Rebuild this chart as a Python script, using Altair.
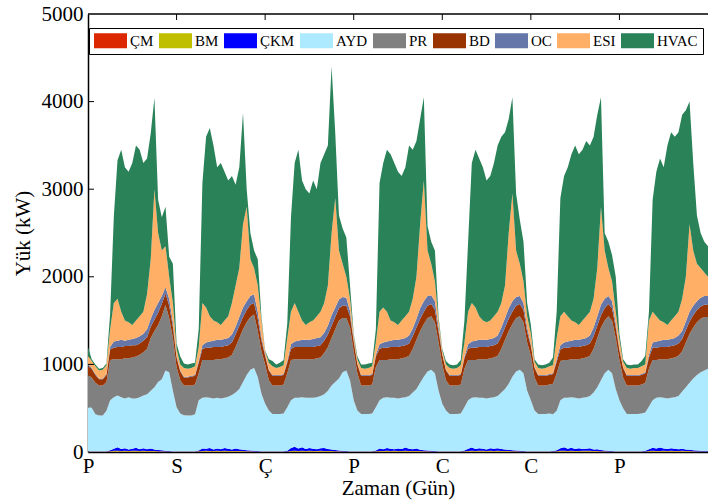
import numpy as np
import pandas as pd
import altair as alt

SERIES = ["ÇM", "BM", "ÇKM", "AYD", "PR", "BD", "OC", "ESI", "HVAC"]
COLORS = ["#dc2800", "#bfbf00", "#0000ff", "#aeeaff", "#808080",
          "#993300", "#6576a8", "#ffb066", "#2a8258"]
DAY_TICKS = [0, 24, 48, 72, 96, 120, 144]
DAY_LABELS = ["P", "S", "Ç", "P", "C", "C", "P"]
Y_TICKS = [0, 1000, 2000, 3000, 4000, 5000]
HOURS = list(range(169))

# small bottom series (kW)
CM = [4,4,4,4,4,4,5,6,5,6,5,5,6,5,5,6,5,5,6,5,5,4,4,4,
      4,4,4,4,4,4,5,5,6,5,6,5,5,6,5,5,6,5,5,5,5,4,4,4,
      4,4,4,4,4,4,4,6,5,5,6,5,6,5,5,6,5,6,5,5,5,4,4,4,
      4,4,4,4,4,4,5,6,5,6,5,6,5,5,6,5,5,6,5,5,5,4,4,4,
      4,4,4,4,4,4,5,5,6,5,5,6,5,6,5,5,6,5,5,5,5,4,4,4,
      4,4,4,4,4,4,4,5,6,5,6,5,5,6,5,6,5,5,6,5,5,4,4,4,
      4,4,4,4,4,4,4,4,5,6,5,6,5,5,6,5,5,6,5,5,5,4,4,4,
      4]
BM = [2,2,2,2,2,2,4,7,9,6,8,5,7,9,6,8,5,6,5,4,3,3,2,2,
      2,2,2,2,2,2,3,6,8,7,5,8,6,9,7,5,6,7,5,4,3,3,2,2,
      2,2,2,2,2,2,3,5,9,7,8,6,9,7,6,8,7,5,6,4,3,3,2,2,
      2,2,2,2,2,2,3,6,7,9,6,8,5,7,9,6,7,6,5,4,3,3,2,2,
      2,2,2,2,2,2,3,7,8,6,9,7,6,8,7,9,6,5,5,4,3,3,2,2,
      2,2,2,2,2,2,2,4,7,8,6,9,7,6,8,7,9,6,5,4,3,3,2,2,
      2,2,2,2,2,2,2,3,5,8,7,6,9,7,8,6,7,8,6,5,4,3,3,2,
      2]
CKM = [3,2,2,2,3,3,12,25,40,22,30,18,25,35,20,28,22,30,18,15,12,8,5,3,
       3,2,2,2,2,3,10,30,22,35,18,26,20,32,24,18,28,20,15,12,10,6,4,3,
       3,2,2,2,2,3,8,35,45,28,40,22,30,25,20,28,35,22,18,14,10,6,4,3,
       3,2,2,2,2,3,10,28,20,32,25,18,30,22,35,26,20,28,16,12,9,6,4,3,
       3,2,2,2,2,3,10,26,38,22,30,25,18,28,24,30,22,18,15,12,9,6,4,3,
       3,2,2,2,2,3,4,12,30,40,26,35,22,30,20,25,28,18,20,14,10,7,4,3,
       3,2,2,2,2,3,3,6,20,35,28,40,25,22,30,26,20,24,18,15,12,10,8,6,
       5]

# upper edges of the stacked layers (kW)
AYD_TOP = [510,505,430,417,417,470,590,626,645,626,610,626,610,610,626,645,660,700,740,800,830,930,910,700,
           512,440,420,417,417,430,590,620,626,620,610,620,610,620,630,650,680,720,800,880,940,960,855,665,
           550,474,435,435,435,440,512,590,620,620,626,620,620,620,626,640,660,700,760,800,840,910,930,817,
           590,474,435,435,435,440,512,590,620,626,620,620,610,620,626,640,680,720,790,860,920,940,900,700,
           550,474,435,435,435,440,512,590,620,626,620,620,610,620,626,640,680,720,780,860,920,940,900,700,
           590,474,435,435,435,440,430,470,590,620,620,626,620,610,620,626,640,680,740,820,900,940,900,720,
           590,500,435,435,435,435,440,450,520,590,620,626,620,610,620,626,640,690,740,790,840,880,910,930,
           950]
PR_TOP = [880,850,790,760,760,800,1050,1060,1060,1060,1070,1070,1080,1090,1110,1140,1180,1300,1380,1450,1550,1680,1530,1300,
          970,820,760,760,760,770,900,1050,1050,1050,1050,1060,1060,1070,1080,1110,1200,1300,1400,1480,1540,1570,1380,1150,
          1000,820,760,760,760,770,900,1050,1060,1060,1060,1060,1060,1060,1070,1080,1130,1200,1300,1400,1500,1530,1530,1420,
          1150,900,760,760,760,770,970,1050,1050,1050,1060,1060,1060,1070,1080,1100,1180,1280,1380,1460,1530,1550,1480,1250,
          1000,820,760,760,760,770,950,1050,1050,1050,1060,1060,1060,1070,1080,1100,1180,1280,1380,1460,1530,1550,1480,1250,
          1100,850,760,760,760,770,780,900,1040,1050,1050,1060,1060,1060,1070,1080,1100,1180,1300,1420,1500,1550,1500,1300,
          1050,850,760,760,760,760,770,790,950,1050,1050,1060,1060,1060,1070,1080,1100,1150,1250,1350,1420,1480,1520,1540,
          1540]
BD_TOP = [980,950,880,830,830,880,1170,1190,1200,1200,1210,1210,1220,1220,1240,1270,1310,1430,1510,1590,1690,1810,1670,1430,
          1080,920,850,850,860,870,1020,1180,1190,1190,1200,1200,1200,1210,1220,1250,1340,1440,1540,1620,1680,1700,1520,1270,
          1100,930,870,870,870,880,1020,1180,1200,1200,1200,1200,1200,1200,1210,1220,1270,1340,1440,1540,1640,1670,1670,1550,
          1260,1000,870,870,870,880,1090,1180,1190,1190,1200,1200,1200,1210,1220,1240,1320,1420,1520,1600,1670,1690,1620,1370,
          1110,930,870,870,870,880,1070,1180,1190,1190,1200,1200,1200,1210,1220,1240,1320,1420,1520,1600,1670,1690,1620,1370,
          1210,960,870,870,870,880,890,1030,1170,1190,1190,1200,1200,1200,1210,1220,1240,1320,1440,1560,1640,1690,1640,1420,
          1160,960,870,870,870,870,880,900,1080,1190,1190,1200,1200,1200,1210,1220,1240,1290,1390,1490,1560,1620,1660,1680,
          1680]
OC_TOP = [1000,960,890,840,840,890,1200,1260,1270,1280,1270,1280,1290,1300,1320,1350,1400,1520,1620,1700,1780,1880,1750,1480,
          1100,930,860,860,870,880,1040,1220,1250,1260,1270,1280,1280,1290,1300,1340,1430,1540,1650,1720,1780,1800,1600,1310,
          1120,940,880,880,880,890,1040,1230,1260,1270,1280,1280,1280,1290,1300,1310,1360,1440,1560,1650,1740,1770,1760,1610,
          1280,1010,880,880,880,890,1110,1230,1250,1260,1270,1280,1280,1290,1300,1330,1410,1520,1640,1720,1780,1790,1720,1420,
          1120,940,880,880,880,890,1090,1230,1260,1270,1280,1280,1280,1290,1300,1330,1420,1530,1640,1720,1770,1780,1700,1420,
          1230,970,880,880,880,890,900,1060,1220,1250,1260,1270,1280,1280,1290,1300,1330,1420,1550,1680,1750,1780,1720,1470,
          1180,970,880,880,880,880,890,910,1110,1250,1260,1270,1280,1280,1290,1300,1330,1380,1490,1600,1670,1720,1760,1780,
          1780]
ESI_TOP = [1100,1040,980,930,940,990,1400,1700,1750,1600,1500,1480,1450,1500,1550,1600,1800,2200,3000,2500,2300,2350,2000,1700,
           1180,1000,960,950,960,980,1200,1700,1650,1550,1500,1480,1450,1500,1550,1700,1900,2100,2600,2800,2200,2100,1900,1500,
           1150,1020,980,960,970,990,1300,1600,1700,1600,1500,1450,1480,1500,1550,1600,1700,1900,2500,2900,2300,2150,2000,1750,
           1330,1060,960,950,960,980,1250,1600,1650,1600,1500,1480,1450,1500,1550,1600,1750,2000,2600,3100,2300,2150,1950,1500,
           1160,1000,960,950,960,990,1250,1600,1700,1650,1550,1500,1480,1500,1550,1600,1700,1900,2500,2950,2300,2150,1950,1550,
           1350,1030,960,950,960,980,990,1300,1550,1600,1550,1500,1480,1450,1500,1550,1600,1750,2100,2800,2300,2100,1950,1600,
           1280,1030,960,950,960,960,980,1000,1500,1600,1550,1500,1480,1450,1500,1550,1600,1750,2000,2600,2300,2150,2100,2050,
           2000]
HVAC_TOP = [1200,1060,1000,950,960,1010,1580,2690,3330,3450,3250,3200,3300,3500,3450,3300,3350,3640,4040,2880,2680,2800,2230,2150,
            1240,1090,1010,1000,1010,1020,1400,3070,3600,3700,3500,3250,3300,3200,3100,3150,3050,3250,3870,3000,2500,2300,2200,1540,
            1160,1060,1040,1000,1020,1050,1470,2680,3300,3450,3100,3000,2950,3100,3000,3300,3400,3500,4400,3640,2700,2550,2450,1900,
            1350,1090,1000,1000,1010,1020,1400,3070,3300,3450,3400,3300,3200,3150,3250,3500,3450,3550,3800,4050,2580,2400,2300,1540,
            1180,1040,1000,990,1000,1050,1500,2400,3300,3450,3350,3250,3100,3150,3300,3500,3600,3650,3800,4050,2950,2650,2400,1700,
            1450,1060,1000,990,1000,1020,1080,1600,2900,3150,3250,3400,3500,3400,3450,3550,3500,3600,3850,4050,2500,2400,2250,2000,
            1350,1060,1000,990,1000,1000,1040,1100,1600,2880,3200,3350,3250,3500,3650,3600,3650,3850,3900,4000,3300,2700,2500,2400,
            2350]

cm, bm, ckm = np.array(CM, float), np.array(BM, float), np.array(CKM, float)
ayd_t, pr_t, bd_t = np.array(AYD_TOP, float), np.array(PR_TOP, float), np.array(BD_TOP, float)
oc_t, esi_t, hvac_t = np.array(OC_TOP, float), np.array(ESI_TOP, float), np.array(HVAC_TOP, float)

values = {
    "ÇM": cm, "BM": bm, "ÇKM": ckm,
    "AYD": ayd_t - cm - bm - ckm,
    "PR": pr_t - ayd_t, "BD": bd_t - pr_t, "OC": oc_t - bd_t,
    "ESI": esi_t - oc_t, "HVAC": hvac_t - esi_t,
}
rows = []
for i, s in enumerate(SERIES):
    for h, v in zip(HOURS, values[s]):
        rows.append({"hour": h, "series": s, "idx": i, "value": float(max(v, 0.0))})
df = pd.DataFrame(rows)

label_expr = "[" + ",".join("'" + l + "'" for l in DAY_LABELS) + "][round(datum.value / 24)]"
W, H = 620, 438
FONT = "'Liberation Serif', 'Times New Roman', 'DejaVu Serif', serif"

area = alt.Chart(df).mark_area(interpolate="linear", strokeWidth=0).encode(
    x=alt.X("hour:Q", title="Zaman (Gün)",
            scale=alt.Scale(domain=[0, 168], nice=False, zero=False),
            axis=alt.Axis(values=DAY_TICKS, labelExpr=label_expr, grid=False, ticks=False,
                          labelFlush=False, labelPadding=3, titlePadding=1)),
    y=alt.Y("value:Q", stack="zero", title="Yük (kW)",
            scale=alt.Scale(domain=[0, 5000], nice=False),
            axis=alt.Axis(values=Y_TICKS, format="d", grid=False, ticks=False,
                          labelPadding=5, titlePadding=8)),
    color=alt.Color("series:N", scale=alt.Scale(domain=SERIES, range=COLORS),
                    legend=alt.Legend(orient="none", legendX=1, legendY=14, direction="horizontal",
                                      title=None, symbolType="M-2.2,-1H2.2V1H-2.2Z",
                                      symbolSize=225, symbolOffset=9,
                                      symbolStrokeWidth=0, symbolOpacity=1,
                                      labelFont=FONT, labelFontSize=15, labelColor="black",
                                      labelOffset=12, columnPadding=5, padding=5,
                                      strokeColor="black", fillColor="white")),
    order=alt.Order("idx:Q", sort="ascending"),
)

ytick = alt.Chart(pd.DataFrame({"value": Y_TICKS[1:-1]})).mark_rule(color="black", strokeWidth=1).encode(
    y=alt.Y("value:Q", stack=None, title="Yük (kW)"), x=alt.value(0), x2=alt.value(6))
xtick = alt.Chart(pd.DataFrame({"hour": DAY_TICKS[1:]})).mark_rule(color="black", strokeWidth=1).encode(
    x=alt.X("hour:Q", title="Zaman (Gün)"), y=alt.value(0), y2=alt.value(6))
topline = alt.Chart(pd.DataFrame({"hour": [0]})).mark_rule(color="black", strokeWidth=1.5).encode(
    x=alt.value(0), x2=alt.value(W), y=alt.value(0))

chart = alt.layer(area, ytick, xtick, topline).properties(
    width=W, height=H,
    autosize=alt.AutoSizeParams(type="none"),
    padding={"left": 88, "top": 14, "right": 0, "bottom": 50},
).configure(font=FONT).configure_view(stroke="transparent").configure_axis(
    labelFont=FONT, titleFont=FONT, labelFontSize=21, titleFontSize=21,
    titleFontWeight="normal", labelColor="black", titleColor="black",
    domainColor="black", domainWidth=1.5,
)

chart.save("out.html", embed_options={"renderer": "svg", "actions": False})
